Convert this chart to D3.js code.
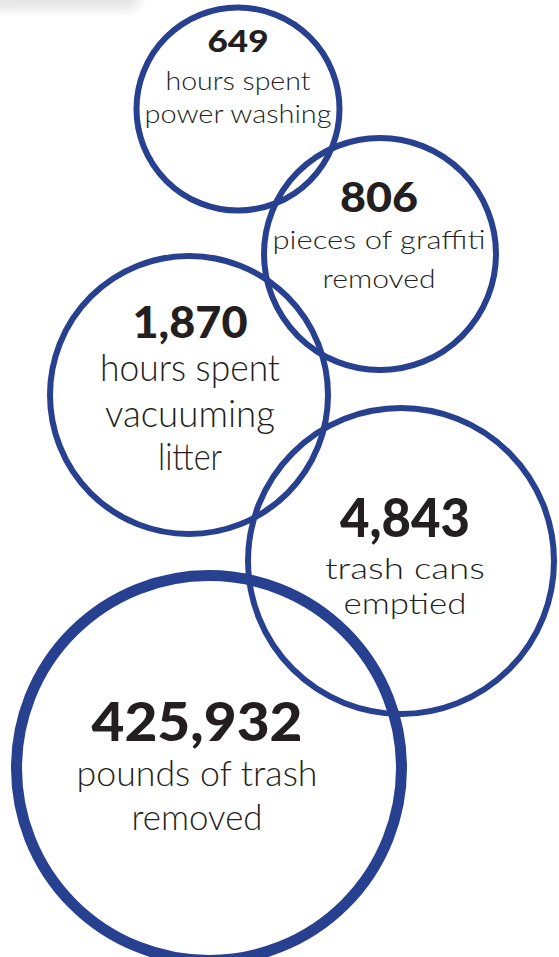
<!DOCTYPE html>
<html><head><meta charset="utf-8">
<script src="https://cdn.jsdelivr.net/npm/d3@7"></script>
<style>html,body{margin:0;padding:0;background:#fff;}svg{display:block;}</style>
</head><body>
<div id="chart"></div>
<script>
// Data
const values = [649, 806, 1870, 4843, 425932];
const labelLines = [
  ["hours spent", "power washing"],
  ["pieces of graffiti", "removed"],
  ["hours spent", "vacuuming", "litter"],
  ["trash cans", "emptied"],
  ["pounds of trash", "removed"]
];

// Layout (geometry / typography, not data)
const layout = [
  {cx: 238, cy: 109, r: 101.5, sw: 6,  tx: 238, num: 31, numY: 52,  numW: 61,  lab: 25, labY: [90, 123],       labW: [145, 187]},
  {cx: 380, cy: 254, r: 116,   sw: 6,  tx: 379, num: 41, numY: 212, numW: 78,  lab: 26, labY: [249, 288],      labW: [213, 113]},
  {cx: 189, cy: 395, r: 139,   sw: 6,  tx: 190, num: 43, numY: 338, numW: 115, lab: 37, labY: [381, 427, 470], labW: [180, 170, 64]},
  {cx: 401, cy: 561, r: 153,   sw: 6,  tx: 405, num: 53, numY: 537, numW: 130, lab: 29, labY: [579, 614],      labW: [160, 123]},
  {cx: 209, cy: 768, r: 192.5, sw: 11, tx: 197, num: 53, numY: 741, numW: 211, lab: 35, labY: [786, 830],      labW: [241, 131]}
];

const W = 559, H = 957;
const svg = d3.select("#chart").append("svg").attr("width", W).attr("height", H);

const defs = svg.append("defs");
defs.append("filter").attr("id", "blur").attr("x", "-50%").attr("y", "-100%").attr("width", "200%").attr("height", "300%")
  .append("feGaussianBlur").attr("stdDeviation", 5);
svg.append("rect").attr("x", -10).attr("y", -14).attr("width", 150).attr("height", 24).attr("rx", 10)
  .attr("fill", "#e6e6e6").attr("filter", "url(#blur)");

const fmt = d3.format(",");
const blue = "#27408f";
const ink = "#231f20";

const items = values.map((v, i) => ({v, lines: labelLines[i], ...layout[i]}));

svg.selectAll("circle.bubble").data(items).join("circle")
  .attr("class", "bubble")
  .attr("cx", d => d.cx).attr("cy", d => d.cy).attr("r", d => d.r)
  .attr("fill", "none").attr("stroke", blue).attr("stroke-width", d => d.sw);

const g = svg.selectAll("g.lbl").data(items).join("g").attr("class", "lbl");
g.append("text")
  .attr("x", d => d.tx).attr("y", d => d.numY)
  .attr("text-anchor", "middle")
  .attr("font-family", "Lato, 'DejaVu Sans', sans-serif")
  .attr("font-weight", 900)
  .attr("font-size", d => d.num)
  .attr("textLength", d => d.numW)
  .attr("lengthAdjust", "spacingAndGlyphs")
  .attr("fill", ink)
  .text(d => fmt(d.v));

g.each(function(d) {
  d3.select(this).selectAll("text.l").data(d.lines).join("text")
    .attr("class", "l")
    .attr("x", d.tx).attr("y", (t, j) => d.labY[j])
    .attr("text-anchor", "middle")
    .attr("font-family", "Lato, 'Open Sans', sans-serif")
    .attr("font-weight", 300)
    .attr("font-size", d.lab)
    .attr("textLength", (t, j) => d.labW[j])
    .attr("lengthAdjust", "spacingAndGlyphs")
    .attr("fill", ink)
    .text(t => t);
});
</script>
</body></html>
